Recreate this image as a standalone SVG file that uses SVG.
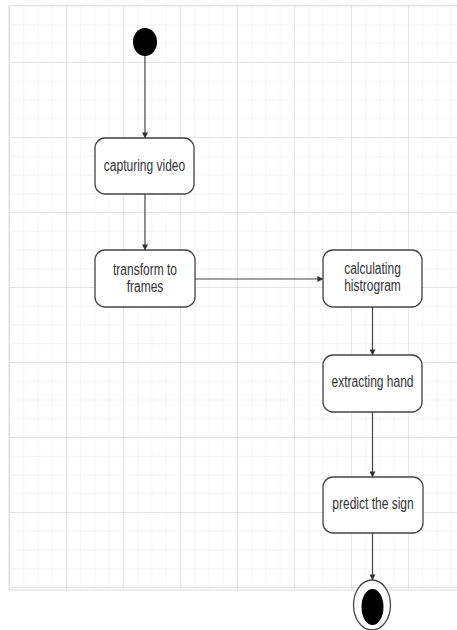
<svg xmlns="http://www.w3.org/2000/svg" width="457" height="630" viewBox="0 0 457 630">
  <defs>
    <pattern id="minor" x="9" y="5.75" width="14.25" height="18.75" patternUnits="userSpaceOnUse">
      <path d="M0 0 V18.75 M0 0 H14.25" fill="none" stroke="#ececec" stroke-width="1"/>
    </pattern>
    <pattern id="major" x="9" y="-13" width="57" height="75" patternUnits="userSpaceOnUse">
      <path d="M0 0 V75 M0 0 H57" fill="none" stroke="#d6d6d6" stroke-width="1"/>
    </pattern>
    <marker id="arrow" viewBox="0 0 8 8" refX="7.5" refY="4" markerWidth="6" markerHeight="6" orient="auto" markerUnits="userSpaceOnUse">
      <path d="M0 0 L8 4 L0 8 Z" fill="#333"/>
    </marker>
  </defs>
  <style>
    .box { fill: #ffffff; stroke: #444444; stroke-width: 1.3; }
    .lbl { font-family: "Liberation Sans", Arial, sans-serif; font-size: 12px; fill: #333333; text-anchor: middle; }
    .edge { fill: none; stroke: #444444; stroke-width: 1.2; marker-end: url(#arrow); }
  </style>
  <rect x="0" y="0" width="457" height="630" fill="#ffffff"/>
  <g id="grid">
    <rect x="9" y="5.75" width="448" height="584.25" fill="url(#minor)"/>
    <rect x="9" y="5.75" width="448" height="584.25" fill="url(#major)"/>
    <path d="M9 5.75 H457 M9 5.75 V590 M9 590 H457" fill="none" stroke="#dcdcdc" stroke-width="1"/>
  </g>
  <g id="connectors">
    <line class="edge" x1="145" y1="56" x2="145" y2="138"/>
    <line class="edge" x1="145" y1="194" x2="145" y2="250"/>
    <line class="edge" x1="195" y1="279" x2="323" y2="279"/>
    <line class="edge" x1="372.5" y1="307" x2="372.5" y2="355"/>
    <line class="edge" x1="372.5" y1="412" x2="372.5" y2="477"/>
    <line class="edge" x1="372.5" y1="533" x2="372.5" y2="580"/>
  </g>
  <g id="start">
    <ellipse cx="145" cy="42" rx="12" ry="14" fill="#000000"/>
  </g>
  <g id="capturing">
    <rect class="box" x="95" y="138" width="99" height="56" rx="10"/>
    <text class="lbl" transform="translate(144.5,171) scale(1,1.3)">capturing video</text>
  </g>
  <g id="transform">
    <rect class="box" x="95" y="250" width="100" height="57" rx="10"/>
    <text class="lbl" transform="translate(145,275) scale(1,1.3)">transform to</text>
    <text class="lbl" transform="translate(145,292) scale(1,1.3)">frames</text>
  </g>
  <g id="histogram">
    <rect class="box" x="323" y="250" width="99" height="57" rx="10"/>
    <text class="lbl" transform="translate(372.5,274) scale(1,1.3)">calculating</text>
    <text class="lbl" transform="translate(372.5,291) scale(1,1.3)">histrogram</text>
  </g>
  <g id="extracting">
    <rect class="box" x="323" y="355" width="99" height="57" rx="10"/>
    <text class="lbl" transform="translate(372.5,387) scale(1,1.3)">extracting hand</text>
  </g>
  <g id="predict">
    <rect class="box" x="323" y="477" width="100" height="56" rx="10"/>
    <text class="lbl" transform="translate(373,509) scale(1,1.3)">predict the sign</text>
  </g>
  <g id="end">
    <ellipse cx="372" cy="605" rx="18.5" ry="25" fill="#ffffff" stroke="#444444" stroke-width="1.3"/>
    <ellipse cx="372.5" cy="607" rx="11" ry="18" fill="#000000"/>
  </g>
</svg>
